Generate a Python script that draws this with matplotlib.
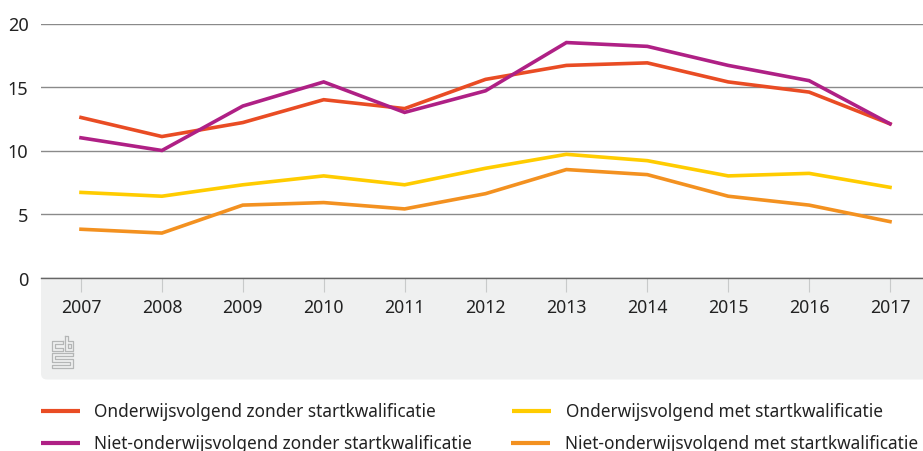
import numpy as np
import matplotlib
matplotlib.use('Agg')
import matplotlib.pyplot as plt
from matplotlib.patches import FancyBboxPatch
from matplotlib.lines import Line2D

plt.rcParams['font.family'] = ['Noto Sans', 'DejaVu Sans']

W, H = 923, 452

years = [2007, 2008, 2009, 2010, 2011, 2012, 2013, 2014, 2015, 2016, 2017]
yticks = [0, 5, 10, 15, 20]

ow_zonder = [12.6, 11.1, 12.2, 14.0, 13.3, 15.6, 16.7, 16.9, 15.4, 14.6, 12.1]
niet_zonder = [11.0, 10.0, 13.5, 15.4, 13.0, 14.7, 18.5, 18.2, 16.7, 15.5, 12.1]
ow_met = [6.7, 6.4, 7.3, 8.0, 7.3, 8.6, 9.7, 9.2, 8.0, 8.2, 7.1]
niet_met = [3.8, 3.5, 5.7, 5.9, 5.4, 6.6, 8.5, 8.1, 6.4, 5.7, 4.4]

series = [
    (ow_zonder, '#e94c24', 'Onderwijsvolgend zonder startkwalificatie'),
    (niet_zonder, '#af2085', 'Niet-onderwijsvolgend zonder startkwalificatie'),
    (ow_met, '#ffcc00', 'Onderwijsvolgend met startkwalificatie'),
    (niet_met, '#f39120', 'Niet-onderwijsvolgend met startkwalificatie'),
]

fig = plt.figure(figsize=(W / 100, H / 100), dpi=100)

# overlay in pixel coords for panel and legend
bg = fig.add_axes([0, 0, 1, 1])
bg.set_xlim(0, W)
bg.set_ylim(H, 0)
bg.axis('off')
bg.add_patch(FancyBboxPatch((41, 270), 900, 110.5, boxstyle='round,pad=0,rounding_size=6',
                            fc='#eff0f0', ec='none'))
bg.add_patch(plt.Rectangle((41, 262), 882, 16.5, fc='white', ec='none'))

ax = fig.add_axes([41 / W, 1 - 278.5 / H, (W - 41) / W, (278.5 - 24.5) / H])
ax.patch.set_alpha(0)
ax.set_ylim(0, 20)
px = (890 - 81) / 10
ax.set_xlim(2007 - (81 - 41) / px, 2017 + (W - 890) / px)
for s in ['top', 'left', 'right']:
    ax.spines[s].set_visible(False)
ax.spines['bottom'].set_color('#666666')
ax.spines['bottom'].set_linewidth(1.0)

ax.set_yticks(yticks)
ax.set_xticks(years)
ax.tick_params(axis='y', length=0, pad=9, labelsize=13, labelcolor='#222222')
ax.tick_params(axis='x', length=10, width=0.8, color='#c8caca', pad=5, labelsize=12.7, labelcolor='#222222')
ax.grid(axis='y', color='#8a8a8a', lw=1.0)
ax.set_axisbelow(True)

for vals, col, lab in series:
    ax.plot(years, vals, color=col, lw=2.6, solid_joinstyle='miter', clip_on=False)

# cbs logo, outlines traced in pixel coords
g = '#b4b6b6'
logo = [
    [(63, 342), (52, 342), (52, 352), (63, 352), (63, 349), (55, 349), (55, 345), (63, 345), (63, 342)],
    [(65, 337), (68, 337), (68, 342), (73, 342), (73, 352), (65, 352), (65, 337)],
    [(67.5, 345), (70.5, 345), (70.5, 349), (67.5, 349), (67.5, 345)],
    [(73, 354), (52, 354), (52, 363), (70, 363), (70, 366), (52, 366), (52, 369), (73, 369),
     (73, 360), (55, 360), (55, 357), (73, 357), (73, 354)],
]
for pts in logo:
    bg.plot(*zip(*pts), color=g, lw=0.9)

# legend
legend_rows = [(41, 80, 94, 411.5), (41, 80, 94, 443.5), (512, 551, 566, 411.5), (511, 550, 565, 443.5)]
for (x0, x1, tx, y), (vals, col, lab) in zip(legend_rows, series):
    bg.add_line(Line2D([x0, x1], [y, y], color=col, lw=3, solid_capstyle='butt'))
    bg.text(tx, y + 0.5, lab, va='center', ha='left', fontsize=12.4, color='#222222')

fig.savefig('out.png', dpi=100)
